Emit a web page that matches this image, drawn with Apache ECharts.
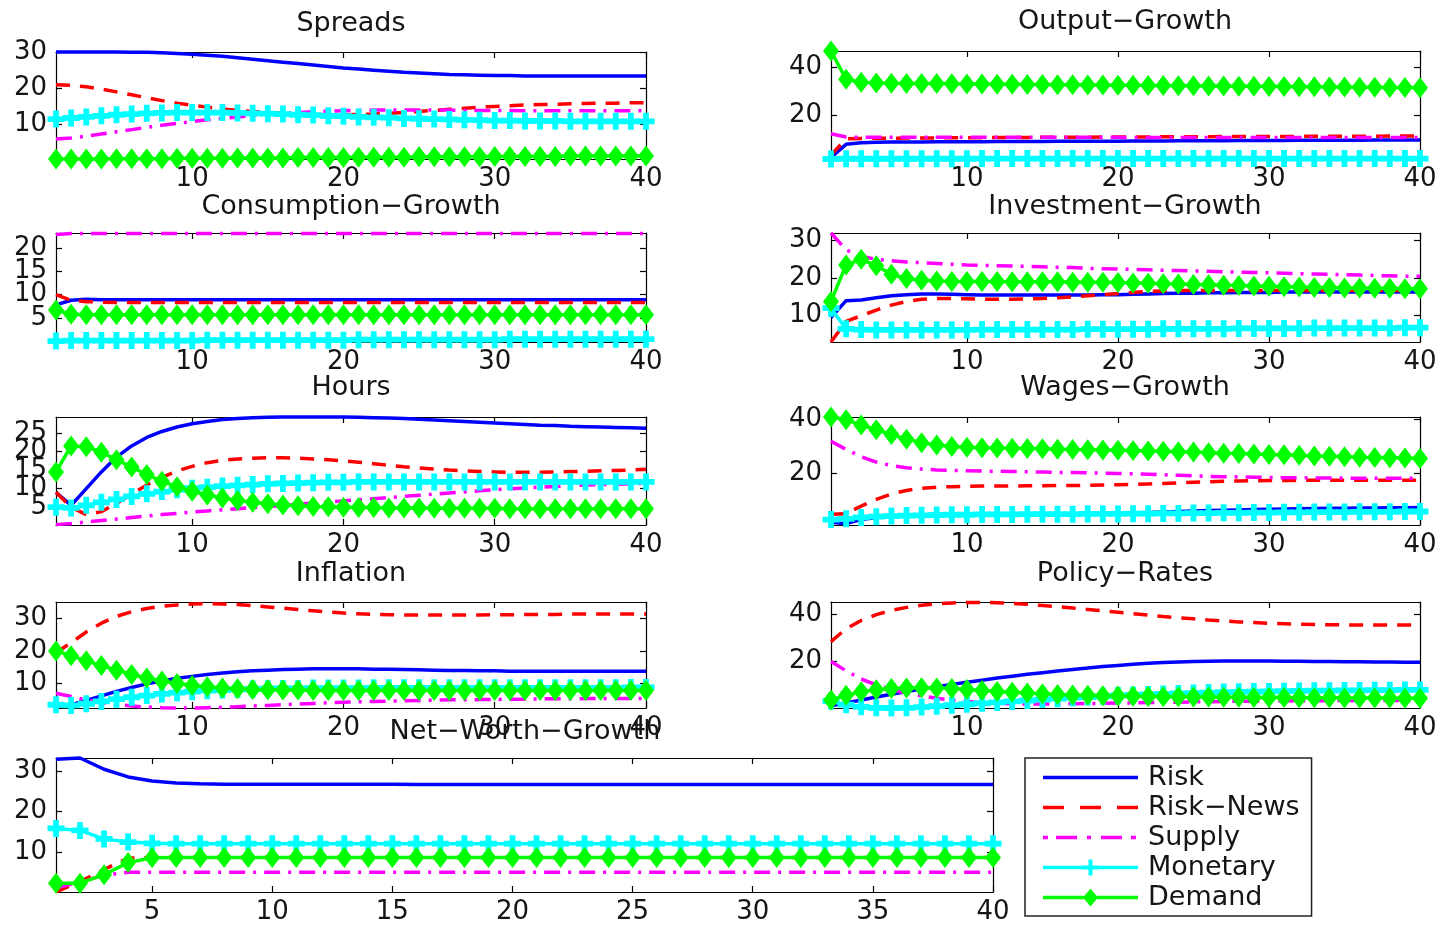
<!DOCTYPE html>
<html><head><meta charset="utf-8">
<script src="https://cdn.jsdelivr.net/npm/echarts@6/dist/echarts.min.js"></script>
<style>html,body{margin:0;padding:0;background:#fff}#c{width:1443px;height:925px}</style>
</head><body><div id="c"></div>
<script>
// ---------- data ----------
const periods = Array.from({length: 40}, (_, i) => i + 1);
const shockNames = ['Risk', 'Risk\u2212News', 'Supply', 'Monetary', 'Demand'];
const panelTitles = ['Spreads', 'Output\u2212Growth', 'Consumption\u2212Growth', 'Investment\u2212Growth',
  'Hours', 'Wages\u2212Growth', 'Inflation', 'Policy\u2212Rates', 'Net\u2212Worth\u2212Growth'];
const yRanges = [[0.5, 30], [1.3, 47], [-0.2, 23.3], [3, 32], [0.2, 29.3], [1, 41], [2.5, 35], [0.1, 45.4], [0, 33.3]];
const yTickValues = [[10, 20, 30], [20, 40], [5, 10, 15, 20], [10, 20, 30], [5, 10, 15, 20, 25], [20, 40], [10, 20, 30], [20, 40], [10, 20, 30]];
const xTickValues = [10, 20, 30, 40];
const xTickValuesWide = [5, 10, 15, 20, 25, 30, 35, 40];

const spreadsRisk = [30.0,30.0,30.0,30.0,30.0,29.9,29.9,29.8,29.6,29.4, 29.1,28.8,28.4,28.0,27.6,27.2,26.8,26.4,26.0,25.6, 25.3,25.0,24.7,24.4,24.2,24.0,23.8,23.7,23.6,23.5, 23.5,23.4,23.4,23.4,23.4,23.4,23.4,23.4,23.4,23.4];
const spreadsNews = [21.0,20.8,20.4,19.8,19.0,18.2,17.4,16.6,15.9,15.3, 14.8,14.3,13.9,13.6,13.3,13.1,12.9,12.8,12.7,12.7, 12.8,12.9,13.1,13.3,13.6,13.9,14.2,14.5,14.8,15.0, 15.2,15.4,15.5,15.6,15.7,15.8,15.9,15.9,16.0,16.0];
const spreadsSupply = [6.0,6.3,6.8,7.4,8.0,8.6,9.2,9.8,10.3,10.8, 11.3,11.7,12.1,12.5,12.8,13.1,13.3,13.5,13.7,13.8, 13.9,14.0,14.0,14.0,14.0,14.0,14.0,13.9,13.9,13.9, 13.9,13.8,13.8,13.8,13.8,13.8,13.8,13.8,13.8,13.8];
const spreadsMonetary = [11.5,11.8,12.1,12.4,12.7,12.9,13.1,13.2,13.3,13.3, 13.3,13.3,13.2,13.1,13.0,12.9,12.7,12.6,12.4,12.3, 12.1,12.0,11.9,11.7,11.6,11.5,11.4,11.3,11.2,11.1, 11.1,11.0,11.0,11.0,10.9,10.9,10.9,10.9,10.9,10.9];
const spreadsDemand = [0.5,0.5,0.5,0.5,0.6,0.6,0.6,0.6,0.7,0.7, 0.7,0.7,0.8,0.8,0.8,0.8,0.9,0.9,0.9,0.9, 1.0,1.0,1.0,1.0,1.1,1.1,1.1,1.1,1.1,1.2, 1.2,1.2,1.2,1.2,1.3,1.3,1.3,1.3,1.3,1.3];

const outputRisk = [2.0,7.5,8.2,8.4,8.5,8.5,8.5,8.6,8.6,8.6, 8.6,8.7,8.7,8.7,8.7,8.8,8.8,8.8,8.8,8.8, 8.9,8.9,8.9,9.0,9.0,9.0,9.0,9.1,9.1,9.1, 9.1,9.2,9.2,9.2,9.2,9.2,9.3,9.3,9.3,9.3];
const outputNews = [3.0,9.8,10.0,10.1,10.1,10.2,10.2,10.2,10.3,10.3, 10.3,10.4,10.4,10.4,10.5,10.5,10.5,10.5,10.6,10.6, 10.6,10.6,10.7,10.7,10.7,10.7,10.8,10.8,10.8,10.8, 10.8,10.9,10.9,10.9,10.9,10.9,10.9,11.0,11.0,11.0];
const outputSupply = [12.0,10.6,10.5,10.5,10.5,10.5,10.5,10.5,10.5,10.5, 10.5,10.5,10.5,10.5,10.5,10.5,10.5,10.5,10.5,10.5, 10.4,10.4,10.4,10.4,10.4,10.4,10.4,10.4,10.4,10.4, 10.4,10.4,10.4,10.4,10.4,10.4,10.4,10.4,10.4,10.4];
const outputMonetary = [1.3,1.4,1.4,1.4,1.4,1.4,1.4,1.4,1.4,1.4, 1.5,1.5,1.5,1.5,1.5,1.5,1.5,1.5,1.5,1.5, 1.5,1.5,1.5,1.5,1.5,1.5,1.5,1.5,1.5,1.5, 1.5,1.5,1.5,1.5,1.5,1.5,1.5,1.5,1.5,1.5];
const outputDemand = [47.0,35.0,33.8,33.5,33.4,33.3,33.2,33.2,33.1,33.0, 33.0,32.9,32.9,32.8,32.8,32.7,32.7,32.6,32.6,32.5, 32.5,32.4,32.4,32.3,32.3,32.2,32.2,32.1,32.1,32.0, 32.0,31.9,31.9,31.8,31.8,31.7,31.7,31.6,31.6,31.5];

const consRisk = [7.8,8.8,9.0,8.9,8.9,8.9,8.9,8.9,8.9,8.9, 8.9,8.9,8.9,8.9,8.9,8.9,8.9,8.9,8.9,8.9, 8.9,8.9,8.9,8.9,8.9,8.9,8.9,8.9,8.9,8.9, 8.9,8.9,8.9,8.9,8.9,8.9,8.9,8.9,8.9,8.9];
const consNews = [10.0,8.8,8.5,8.4,8.3,8.3,8.3,8.3,8.3,8.3, 8.3,8.3,8.3,8.3,8.3,8.3,8.3,8.3,8.3,8.3, 8.3,8.3,8.3,8.3,8.3,8.3,8.3,8.3,8.3,8.3, 8.3,8.3,8.3,8.3,8.3,8.3,8.3,8.3,8.3,8.3];
const consSupply = [23.0,23.2,23.2,23.2,23.2,23.2,23.2,23.2,23.2,23.2, 23.2,23.2,23.2,23.2,23.2,23.2,23.2,23.2,23.2,23.2, 23.2,23.2,23.2,23.2,23.2,23.2,23.2,23.2,23.2,23.2, 23.2,23.2,23.2,23.2,23.2,23.2,23.2,23.2,23.2,23.2];
const consMonetary = [0.0,0.1,0.1,0.1,0.1,0.1,0.1,0.1,0.1,0.1, 0.2,0.2,0.2,0.2,0.2,0.2,0.2,0.2,0.2,0.2, 0.3,0.3,0.3,0.3,0.3,0.3,0.3,0.3,0.3,0.3, 0.4,0.4,0.4,0.4,0.4,0.4,0.4,0.4,0.4,0.4];
const consDemand = [6.7,5.8,5.7,5.7,5.7,5.7,5.7,5.7,5.7,5.7, 5.7,5.7,5.7,5.7,5.7,5.7,5.7,5.7,5.7,5.7, 5.7,5.7,5.7,5.7,5.7,5.7,5.7,5.7,5.7,5.7, 5.7,5.7,5.7,5.7,5.7,5.7,5.7,5.7,5.7,5.7];

const invRisk = [9.5,14.0,14.2,14.8,15.3,15.6,15.8,15.8,15.7,15.6, 15.5,15.5,15.5,15.5,15.5,15.5,15.5,15.5,15.6,15.6, 15.7,15.8,15.9,16.0,16.0,16.1,16.1,16.2,16.2,16.2, 16.3,16.3,16.3,16.3,16.3,16.3,16.3,16.3,16.3,16.3];
const invNews = [3.0,8.5,10.0,11.5,12.8,13.8,14.4,14.6,14.6,14.5, 14.4,14.4,14.4,14.5,14.6,14.8,15.0,15.3,15.6,15.9, 16.2,16.5,16.6,16.7,16.7,16.7,16.7,16.7,16.7,16.7, 16.7,16.7,16.7,16.7,16.7,16.7,16.7,16.7,16.7,16.7];
const invSupply = [32.0,27.5,25.8,25.0,24.6,24.3,24.1,23.9,23.7,23.5, 23.4,23.3,23.2,23.1,23.0,22.9,22.8,22.6,22.5,22.4, 22.3,22.2,22.1,22.0,21.9,21.8,21.7,21.6,21.5,21.4, 21.3,21.2,21.1,21.0,20.9,20.8,20.7,20.6,20.5,20.5];
const invMonetary = [12.0,6.5,6.3,6.2,6.2,6.2,6.2,6.2,6.2,6.2, 6.3,6.3,6.3,6.3,6.3,6.3,6.3,6.4,6.4,6.4, 6.4,6.4,6.5,6.5,6.5,6.5,6.5,6.6,6.6,6.6, 6.6,6.6,6.7,6.7,6.7,6.7,6.7,6.7,6.8,6.8];
const invDemand = [13.8,23.5,25.0,23.3,21.0,19.9,19.4,19.2,19.1,19.1, 19.1,19.1,19.0,19.0,19.0,19.0,18.9,18.9,18.9,18.8, 18.7,18.6,18.5,18.4,18.3,18.2,18.1,18.0,17.9,17.8, 17.7,17.6,17.5,17.5,17.4,17.4,17.3,17.3,17.2,17.2];

const hoursRisk = [9.0,5.5,10.0,14.5,18.5,21.5,23.8,25.4,26.6,27.5, 28.1,28.6,28.9,29.1,29.2,29.3,29.3,29.3,29.3,29.3, 29.2,29.1,29.0,28.9,28.7,28.5,28.3,28.1,27.9,27.7, 27.5,27.3,27.1,27.0,26.8,26.7,26.6,26.5,26.4,26.3];
const hoursNews = [9.0,5.0,3.0,3.8,6.0,8.5,11.0,13.0,14.8,16.0, 17.0,17.6,18.0,18.2,18.3,18.3,18.2,18.0,17.8,17.5, 17.1,16.7,16.3,15.9,15.6,15.3,15.0,14.8,14.6,14.5, 14.4,14.4,14.4,14.5,14.6,14.7,14.8,14.9,15.0,15.2];
const hoursSupply = [0.3,0.6,1.0,1.4,1.8,2.2,2.6,3.0,3.3,3.7, 4.0,4.3,4.6,4.9,5.2,5.5,5.8,6.1,6.4,6.7, 7.0,7.3,7.6,7.9,8.2,8.5,8.8,9.1,9.4,9.7, 10.0,10.2,10.4,10.6,10.8,11.0,11.1,11.2,11.3,11.4];
const hoursMonetary = [5.0,4.8,5.5,6.3,7.1,7.9,8.6,9.2,9.7,10.1, 10.4,10.7,10.9,11.1,11.3,11.4,11.5,11.6,11.7,11.7, 11.8,11.8,11.8,11.8,11.8,11.8,11.8,11.8,11.8,11.8, 11.8,11.8,11.8,11.8,11.8,11.8,11.8,11.8,11.8,11.8];
const hoursDemand = [14.5,21.5,21.3,19.8,17.8,15.8,13.8,12.0,10.5,9.3, 8.3,7.5,6.8,6.3,5.9,5.6,5.4,5.2,5.1,5.0, 4.9,4.9,4.8,4.8,4.8,4.7,4.7,4.7,4.7,4.7, 4.6,4.6,4.6,4.6,4.6,4.6,4.6,4.6,4.6,4.6];

const wagesRisk = [2.0,1.5,3.0,3.8,4.2,4.4,4.5,4.6,4.6,4.7, 4.7,4.8,4.8,4.9,4.9,5.0,5.0,5.1,5.2,5.3, 5.4,5.6,5.8,6.0,6.2,6.4,6.5,6.6,6.7,6.8, 6.9,7.0,7.1,7.2,7.2,7.3,7.3,7.4,7.4,7.5];
const wagesNews = [5.0,5.2,8.0,10.5,12.5,13.8,14.6,15.0,15.2,15.3, 15.4,15.4,15.4,15.5,15.5,15.6,15.6,15.7,15.8,15.9, 16.0,16.2,16.4,16.6,16.8,17.0,17.2,17.3,17.4,17.5, 17.5,17.5,17.6,17.6,17.6,17.6,17.6,17.6,17.6,17.6];
const wagesSupply = [32.0,29.0,26.3,24.3,23.0,22.2,21.7,21.4,21.2,21.1, 21.0,20.9,20.8,20.7,20.6,20.5,20.4,20.3,20.2,20.1, 20.0,19.8,19.6,19.4,19.2,19.0,18.9,18.8,18.7,18.6, 18.5,18.5,18.4,18.4,18.4,18.3,18.3,18.3,18.3,18.3];
const wagesMonetary = [3.0,3.3,3.8,4.1,4.3,4.5,4.6,4.7,4.8,4.8, 4.9,4.9,4.9,5.0,5.0,5.0,5.0,5.1,5.1,5.1, 5.2,5.2,5.3,5.3,5.4,5.4,5.5,5.5,5.6,5.6, 5.7,5.7,5.8,5.8,5.8,5.9,5.9,5.9,6.0,6.0];
const wagesDemand = [41.0,40.0,38.0,36.3,34.5,32.8,31.5,30.6,30.1,29.8, 29.6,29.5,29.4,29.3,29.2,29.1,29.0,28.9,28.8,28.7, 28.6,28.4,28.3,28.1,28.0,27.8,27.6,27.5,27.3,27.1, 27.0,26.8,26.6,26.5,26.3,26.1,26.0,25.9,25.8,25.6];

const inflRisk = [3.0,3.5,4.8,6.2,7.6,8.8,9.9,10.8,11.6,12.2, 12.8,13.2,13.6,13.9,14.1,14.3,14.4,14.5,14.5,14.5, 14.5,14.4,14.4,14.3,14.2,14.1,14.0,14.0,13.9,13.9, 13.8,13.8,13.8,13.8,13.8,13.8,13.8,13.8,13.8,13.8];
const inflNews = [19.5,22.5,25.8,28.5,30.6,32.0,33.0,33.7,34.1,34.4, 34.5,34.4,34.2,33.9,33.5,33.1,32.7,32.3,31.9,31.6, 31.4,31.2,31.1,31.0,31.0,31.0,31.0,31.0,31.0,31.1, 31.1,31.2,31.2,31.2,31.3,31.3,31.3,31.3,31.3,31.3];
const inflSupply = [7.0,6.0,5.0,4.2,3.6,3.1,2.8,2.6,2.5,2.5, 2.6,2.7,2.9,3.1,3.3,3.5,3.7,3.9,4.1,4.3, 4.4,4.5,4.6,4.7,4.8,4.9,5.0,5.0,5.1,5.1, 5.2,5.2,5.3,5.3,5.3,5.4,5.4,5.4,5.4,5.4];
const inflMonetary = [3.5,3.3,3.8,4.5,5.2,5.8,6.3,6.8,7.2,7.5, 7.8,8.0,8.2,8.3,8.4,8.5,8.5,8.6,8.6,8.6, 8.6,8.7,8.7,8.7,8.7,8.7,8.7,8.7,8.7,8.7, 8.7,8.7,8.7,8.7,8.7,8.7,8.7,8.7,8.8,8.8];
const inflDemand = [20.0,18.5,17.0,15.5,14.1,12.8,11.7,10.8,10.0,9.4, 9.0,8.6,8.4,8.2,8.1,8.0,8.0,7.9,7.9,7.9, 7.9,7.9,7.9,7.9,7.9,7.9,7.9,7.9,7.9,7.9, 7.9,7.9,7.9,7.9,7.9,7.9,7.9,7.9,7.9,7.9];

const rateRisk = [1.0,2.2,3.5,4.8,6.0,7.1,8.2,9.2,10.2,11.1, 12.0,12.9,13.7,14.5,15.2,15.9,16.6,17.2,17.8,18.3, 18.8,19.2,19.5,19.8,20.0,20.1,20.2,20.2,20.2,20.2, 20.1,20.1,20.0,20.0,19.9,19.9,19.8,19.8,19.7,19.7];
const rateNews = [28.5,34.0,37.5,40.0,41.8,43.1,44.0,44.6,45.0,45.2, 45.2,45.1,44.8,44.4,43.9,43.4,42.8,42.2,41.6,41.0, 40.4,39.8,39.2,38.7,38.2,37.7,37.3,36.9,36.6,36.3, 36.1,35.9,35.8,35.7,35.6,35.6,35.6,35.6,35.6,35.6];
const rateSupply = [20.0,16.0,12.5,10.0,8.0,6.5,5.3,4.3,3.5,2.9, 2.4,2.1,1.9,1.8,1.8,1.8,1.9,2.0,2.1,2.2, 2.3,2.4,2.5,2.6,2.7,2.8,2.9,3.0,3.0,3.1, 3.1,3.2,3.2,3.2,3.3,3.3,3.3,3.3,3.3,3.3];
const rateMonetary = [3.0,1.5,0.6,0.2,0.1,0.2,0.5,0.9,1.3,1.7, 2.1,2.5,2.9,3.3,3.7,4.1,4.5,4.8,5.1,5.4, 5.7,5.9,6.1,6.3,6.5,6.7,6.9,7.0,7.1,7.2, 7.3,7.4,7.5,7.5,7.6,7.6,7.7,7.7,7.8,7.8];
const rateDemand = [3.5,5.5,7.0,7.9,8.4,8.7,8.8,8.7,8.4,8.0, 7.6,7.2,6.8,6.5,6.2,5.9,5.7,5.5,5.3,5.2, 5.1,5.0,4.9,4.9,4.8,4.8,4.7,4.7,4.6,4.6, 4.6,4.5,4.5,4.5,4.4,4.4,4.4,4.4,4.3,4.3];

const nwRisk = [33.0,33.3,30.5,28.6,27.6,27.1,26.9,26.8,26.8,26.8, 26.8,26.8,26.8,26.8,26.8,26.7,26.7,26.7,26.7,26.7, 26.7,26.7,26.7,26.7,26.7,26.7,26.7,26.7,26.7,26.7, 26.7,26.7,26.7,26.7,26.7,26.7,26.7,26.7,26.7,26.7];
const nwNews = [0.0,2.6,5.6,8.4,8.6,8.6,8.6,8.6,8.6,8.6, 8.6,8.6,8.6,8.6,8.6,8.6,8.6,8.6,8.6,8.6, 8.6,8.6,8.6,8.6,8.6,8.6,8.6,8.6,8.6,8.6, 8.6,8.6,8.6,8.6,8.6,8.6,8.6,8.6,8.6,8.6];
const nwSupply = [1.0,2.5,4.2,4.9,4.9,4.9,4.9,4.9,4.9,4.9, 4.9,4.9,4.9,4.9,4.9,4.9,4.9,4.9,4.9,4.9, 4.9,4.9,4.9,4.9,4.9,4.9,4.9,4.9,4.9,4.9, 4.9,4.9,4.9,4.9,4.9,4.9,4.9,4.9,4.9,4.9];
const nwMonetary = [15.8,15.3,13.2,12.4,12.1,12.0,12.0,12.0,12.0,12.0, 12.0,12.0,12.0,12.0,12.0,12.0,12.0,12.0,12.0,12.0, 12.0,12.0,12.0,12.0,12.0,12.0,12.0,12.0,12.0,12.0, 12.0,12.0,12.0,12.0,12.0,12.0,12.0,12.0,12.0,12.0];
const nwDemand = [2.2,2.2,4.3,7.3,8.5,8.6,8.6,8.6,8.6,8.6, 8.6,8.6,8.6,8.6,8.6,8.6,8.6,8.6,8.6,8.6, 8.6,8.6,8.6,8.6,8.6,8.6,8.6,8.6,8.6,8.6, 8.6,8.6,8.6,8.6,8.6,8.6,8.6,8.6,8.6,8.6];

const panelSeries = [
  [spreadsRisk, spreadsNews, spreadsSupply, spreadsMonetary, spreadsDemand],
  [outputRisk, outputNews, outputSupply, outputMonetary, outputDemand],
  [consRisk, consNews, consSupply, consMonetary, consDemand],
  [invRisk, invNews, invSupply, invMonetary, invDemand],
  [hoursRisk, hoursNews, hoursSupply, hoursMonetary, hoursDemand],
  [wagesRisk, wagesNews, wagesSupply, wagesMonetary, wagesDemand],
  [inflRisk, inflNews, inflSupply, inflMonetary, inflDemand],
  [rateRisk, rateNews, rateSupply, rateMonetary, rateDemand],
  [nwRisk, nwNews, nwSupply, nwMonetary, nwDemand]
];

// ---------- layout & style ----------
const FONT = 'DejaVu Sans';
const FS = 26;
const FS_TITLE = 27;
const TXT = '#151515';
const gridBoxes = [
  {left: 56, top: 52, width: 590, height: 107},
  {left: 831, top: 51, width: 589, height: 108},
  {left: 56, top: 233, width: 590, height: 109},
  {left: 831, top: 233, width: 589, height: 109},
  {left: 56, top: 417, width: 590, height: 108},
  {left: 831, top: 417, width: 589, height: 108},
  {left: 56, top: 602, width: 590, height: 106},
  {left: 831, top: 602, width: 589, height: 106},
  {left: 56, top: 758, width: 937, height: 134}
];
const titlePos = [[351, 10], [1125, 8], [351, 193], [1125, 193], [351, 374], [1125, 374], [351, 560], [1125, 560], [525, 718]];

const plusPath = 'path://M3.3,0H6.7V3.3H10V6.7H6.7V10H3.3V6.7H0V3.3H3.3Z';
const shockStyles = [
  {color: '#0000ff', lineStyle: {width: 3.5, type: 'solid'}, symbol: 'none'},
  {color: '#ff0000', lineStyle: {width: 3.5, type: [14, 10]}, symbol: 'none'},
  {color: '#ff00ff', lineStyle: {width: 3.5, type: [16, 8, 3, 8]}, symbol: 'none'},
  {color: '#00ffff', lineStyle: {width: 3.5, type: 'solid'}, symbol: plusPath, symbolSize: 17},
  {color: '#00ff00', lineStyle: {width: 3.5, type: 'solid'}, symbol: 'diamond', symbolSize: [16, 21]}
];
// legend icons (box 95 x 20)
const legendIcons = [
  'path://M0,0M0,8.3H95V11.7H0Z M95,20',
  'path://M0,0M0,8.3H21V11.7H0Z M37,8.3H58V11.7H37Z M74,8.3H95V11.7H74Z M95,20',
  'path://M0,0M0,8.3H5V11.7H0Z M13,8.3H34V11.7H13Z M44,8.3H48V11.7H44Z M58,8.3H79V11.7H58Z M88,8.3H93V11.7H88Z M95,20',
  'path://M0,0M0,8.3H95V11.7H0Z M45.5,2H49.5V18H45.5Z M39.5,8H55.5V12H39.5Z M95,20',
  'path://M0,0M0,8.3H95V11.7H0Z M47.5,1L55,10L47.5,19L40,10Z M95,20'
];

const grid = [], xAxis = [], yAxis = [], series = [], title = [];
gridBoxes.forEach((g, i) => {
  grid.push(Object.assign({show: false, containLabel: false}, g));
  const xt = i === 8 ? xTickValuesWide : xTickValues;
  const axLine = {show: true, onZero: false, lineStyle: {color: '#000', width: 1.2}};
  const tick = v => ({show: true, inside: true, length: 6, customValues: v, lineStyle: {color: '#000', width: 1.2}});
  const lab = (v, m) => ({show: true, customValues: v, showMinLabel: true, showMaxLabel: true, hideOverlap: false,
      fontSize: FS, fontFamily: FONT, color: TXT, margin: m});
  xAxis.push({type: 'value', gridIndex: i, min: 1, max: 40, position: 'bottom',
    axisLine: axLine, splitLine: {show: false}, axisTick: tick(xt), axisLabel: lab(xt, 7)});
  xAxis.push({type: 'value', gridIndex: i, min: 1, max: 40, position: 'top',
    axisLine: axLine, splitLine: {show: false}, axisTick: tick(xt), axisLabel: {show: false}});
  const yt = yTickValues[i];
  const ytA = yt.filter((v, j) => j % 2 === 0);
  const ytB = yt.filter((v, j) => j % 2 === 1);
  const yMin = yRanges[i][0], yMax = yRanges[i][1];
  // main left axis (line, ticks, every other label)
  yAxis.push({type: 'value', gridIndex: i, min: yMin, max: yMax, position: 'left',
    axisLine: axLine, splitLine: {show: false}, axisTick: tick(yt), axisLabel: lab(ytA, 9)});
  // companion left axis carrying the remaining labels (avoids overlap thinning)
  yAxis.push({type: 'value', gridIndex: i, min: yMin, max: yMax, position: 'left', offset: 0,
    axisLine: {show: false}, splitLine: {show: false}, axisTick: {show: false},
    axisLabel: ytB.length ? lab(ytB, 9) : {show: false}});
  // right axis (ticks only)
  yAxis.push({type: 'value', gridIndex: i, min: yMin, max: yMax, position: 'right',
    axisLine: axLine, splitLine: {show: false}, axisTick: tick(yt), axisLabel: {show: false}});
  title.push({text: panelTitles[i], left: titlePos[i][0], top: titlePos[i][1], textAlign: 'center', padding: 0,
    textStyle: {fontSize: FS_TITLE, fontFamily: FONT, fontWeight: 'normal', color: TXT}});
  panelSeries[i].forEach((vals, k) => {
    const st = shockStyles[k];
    series.push({
      type: 'line', name: shockNames[k], xAxisIndex: 2 * i, yAxisIndex: 3 * i,
      data: periods.map((p, j) => [p, vals[j]]),
      color: st.color,
      itemStyle: {color: st.color},
      lineStyle: Object.assign({color: st.color}, st.lineStyle),
      symbol: st.symbol, symbolSize: st.symbolSize || 4, showSymbol: st.symbol !== 'none',
      clip: false, silent: true, animation: false, z: 2 + k
    });
  });
});

const chart = echarts.init(document.getElementById('c'), null, {renderer: 'canvas'});
chart.setOption({
  backgroundColor: '#ffffff',
  animation: false,
  title: title,
  grid: grid, xAxis: xAxis, yAxis: yAxis, series: series,
  legend: {
    data: shockNames.map((n, k) => ({name: n, icon: legendIcons[k]})),
    orient: 'vertical', left: 1025, top: 758,
    backgroundColor: '#fff', borderColor: '#222', borderWidth: 1.5,
    padding: [6, 12, 5, 18], itemWidth: 95, itemHeight: 20, itemGap: 3,
    selectedMode: false,
    textStyle: {fontSize: FS_TITLE, fontFamily: FONT, color: TXT, padding: [0, 0, 0, 5]}
  }
});
</script>
</body></html>
